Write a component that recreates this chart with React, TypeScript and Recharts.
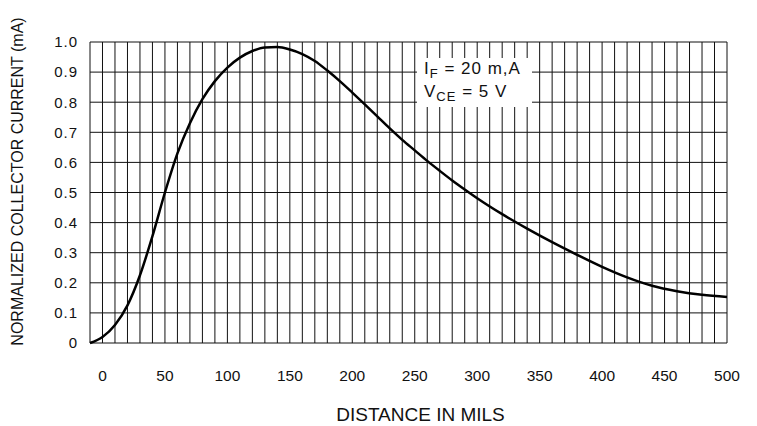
import { LineChart, Line, XAxis, YAxis, CartesianGrid, Label } from 'recharts'

// distance in mils vs normalized collector current (mA)
const distance = [
  -10, 0, 10, 20, 30, 40, 50, 60, 70, 80, 90, 100, 110, 120, 130, 140, 150, 160, 170, 180,
  190, 200, 210, 220, 230, 240, 250, 260, 270, 280, 290, 300, 320, 340, 360, 380, 400, 420,
  440, 460, 480, 500,
]
const current = [
  0, 0.02, 0.06, 0.125, 0.225, 0.355, 0.5, 0.63, 0.73, 0.81, 0.87, 0.915, 0.948, 0.97, 0.982, 0.983,
  0.975, 0.96, 0.937, 0.905, 0.87, 0.832, 0.793, 0.753, 0.713, 0.675, 0.64, 0.605, 0.572, 0.54,
  0.51, 0.481, 0.428, 0.38, 0.335, 0.293, 0.253, 0.218, 0.19, 0.172, 0.16, 0.153,
]

const xTicks = [
  -10, 0, 10, 20, 30, 40, 50, 60, 70, 80, 90, 100, 110, 120, 130, 140, 150, 160, 170, 180, 190,
  200, 210, 220, 230, 240, 250, 260, 270, 280, 290, 300, 310, 320, 330, 340, 350, 360, 370, 380,
  390, 400, 410, 420, 430, 440, 450, 460, 470, 480, 490, 500,
]
const xLabelTicks = [0, 50, 100, 150, 200, 250, 300, 350, 400, 450, 500]
const yTicks = [0, 0.1, 0.2, 0.3, 0.4, 0.5, 0.6, 0.7, 0.8, 0.9, 1.0]
const yTickLabels = ['0', '0.1', '0.2', '0.3', '0.4', '0.5', '0.6', '0.7', '0.8', '0.9', '1.0']

const data = distance.map((d, i) => ({ d, i: current[i] }))

const font = '"Liberation Sans", Arial, sans-serif'

export default function App() {
  return (
    <div style={{ position: 'absolute', left: 0, top: 0, width: 757, height: 426, background: '#fff', fontFamily: font }}>
      <LineChart width={757} height={426} data={data} margin={{ top: 42, right: 30, bottom: 0, left: 0 }}>
        <CartesianGrid stroke="#111" strokeWidth={1} />
        <XAxis
          dataKey="d"
          type="number"
          domain={[-10, 500]}
          ticks={xTicks}
          interval={0}
          tickLine={false}
          axisLine={false}
          tickSize={0}
          tickMargin={27}
          height={83}
          tickFormatter={v => (xLabelTicks.includes(v) ? String(v) : '')}
          tick={{ fontSize: 15.5, fill: '#111', fontFamily: font }}
        >
          <Label
            content={({ viewBox }: any) => (
              <text
                x={viewBox.x + viewBox.width / 2 + 12}
                y={viewBox.y + 78}
                textAnchor="middle"
                fontSize={19}
                fill="#111"
                fontFamily={font}
              >
                DISTANCE IN MILS
              </text>
            )}
          />
        </XAxis>
        <YAxis
          type="number"
          domain={[0, 1]}
          ticks={yTicks}
          interval={0}
          tickLine={false}
          axisLine={false}
          tickSize={0}
          tickMargin={12}
          width={90}
          tickFormatter={(v, i) => yTickLabels[i]}
          tick={{ fontSize: 15, fill: '#111', fontFamily: font, letterSpacing: 1 }}
        >
          <Label
            content={({ viewBox }: any) => {
              const cx = viewBox.x + 17
              const cy = viewBox.y + viewBox.height / 2 - 11
              return (
                <text
                  x={cx}
                  y={cy}
                  dy="0.36em"
                  transform={`rotate(-90, ${cx}, ${cy})`}
                  textAnchor="middle"
                  fontSize={16}
                  fill="#111"
                  fontFamily={font}
                >
                  NORMALIZED COLLECTOR CURRENT (mA)
                </text>
              )
            }}
          />
        </YAxis>
        <Line
          type="monotone"
          dataKey="i"
          stroke="#000"
          strokeWidth={2.5}
          dot={false}
          isAnimationActive={false}
        />
      </LineChart>
      <div
        style={{
          position: 'absolute',
          left: 417,
          top: 58,
          width: 115,
          height: 49,
          background: '#fff',
          fontSize: 17,
          lineHeight: '22px',
          letterSpacing: 1,
          color: '#111',
          paddingLeft: 7,
          boxSizing: 'border-box',
        }}
      >
        <div>
          I<span style={{ fontSize: 13, position: 'relative', top: 4 }}>F</span> = 20 m,A
        </div>
        <div>
          V<span style={{ fontSize: 13, position: 'relative', top: 4 }}>CE</span> = 5 V
        </div>
      </div>
    </div>
  )
}
